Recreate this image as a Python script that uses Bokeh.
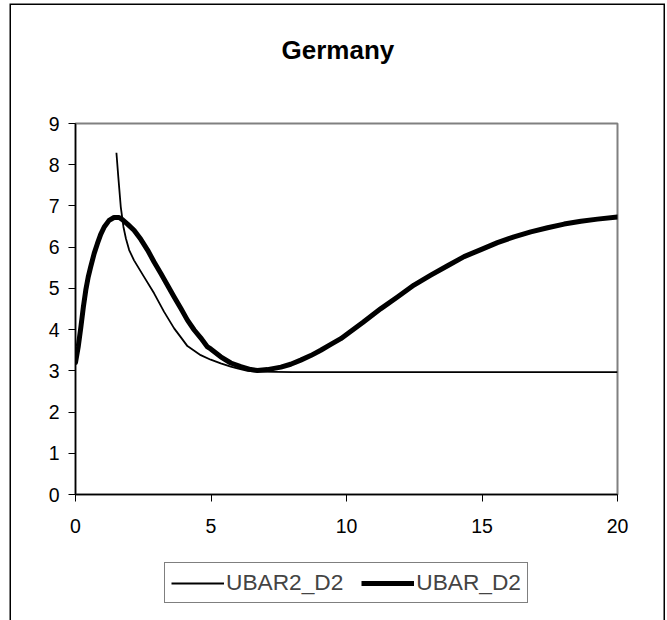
from bokeh.plotting import figure
from bokeh.layouts import column
from bokeh.models import Range1d, FixedTicker, Legend, LegendItem, Title
from bokeh.embed import file_html
from bokeh.resources import INLINE

title_text = "Germany"
x_ticks = [0, 5, 10, 15, 20]
y_ticks = [0, 1, 2, 3, 4, 5, 6, 7, 8, 9]
series_names = ["UBAR2_D2", "UBAR_D2"]

ubar2_x = [1.51, 1.58, 1.67, 1.77, 1.86, 1.98, 2.16, 2.53, 2.9, 3.27, 3.64, 3.87, 4.13,
           4.62, 4.99, 5.36, 5.73, 5.97, 6.35, 6.7, 8.0, 10.0, 12.0, 14.0, 16.0, 18.0, 20.0]
ubar2_y = [8.29, 7.7, 6.98, 6.49, 6.21, 5.93, 5.68, 5.28, 4.88, 4.43, 4.03, 3.83, 3.6,
           3.38, 3.27, 3.18, 3.1, 3.06, 3.0, 2.98, 2.97, 2.97, 2.97, 2.97, 2.97, 2.97, 2.97]

ubar_x = [0.0, 0.1, 0.2, 0.29, 0.38, 0.47, 0.56, 0.69, 0.81, 0.93, 1.06, 1.24, 1.42,
          1.61, 1.73, 1.92, 2.16, 2.41, 2.66, 2.9, 3.15, 3.39, 3.64, 3.89, 4.13, 4.38,
          4.62, 4.87, 4.99, 5.36, 5.73, 6.1, 6.47, 6.71, 7.08, 7.58, 7.94, 8.31, 8.68,
          9.05, 9.42, 9.79, 10.1, 10.6, 11.27, 11.88, 12.49, 13.11, 13.73, 14.34, 14.96,
          15.57, 16.18, 16.8, 17.42, 18.03, 18.65, 19.26, 20.0]
ubar_y = [3.2, 3.58, 4.07, 4.55, 4.96, 5.28, 5.52, 5.85, 6.09, 6.31, 6.49, 6.65, 6.72,
          6.72, 6.67, 6.56, 6.41, 6.19, 5.93, 5.64, 5.36, 5.08, 4.79, 4.51, 4.23, 3.99,
          3.8, 3.58, 3.53, 3.34, 3.19, 3.1, 3.03, 3.01, 3.03, 3.09, 3.16, 3.26, 3.37,
          3.5, 3.64, 3.78, 3.93, 4.17, 4.51, 4.79, 5.08, 5.32, 5.55, 5.77, 5.94,
          6.11, 6.25, 6.37, 6.47, 6.56, 6.63, 6.68, 6.73]

FONT = "Liberation Sans"
W = 667
H1 = 555
H2 = 65

# ---- main chart ----
p = figure(width=W, height=H1, output_backend="svg", toolbar_location=None,
           title_location=None,
           x_range=Range1d(0, 20), y_range=Range1d(0, 9),
           min_border_left=75, min_border_right=50, min_border_top=123,
           min_border_bottom=H1 - 494)

# spacer (nearest the frame), then the real title above it
spacer = Title(text=" ", text_font=FONT, text_font_size="26px", standoff=27,
               align="left", offset=206)
main_title = Title(text=title_text, text_font=FONT, text_font_size="26px",
                   text_font_style="bold", text_color="black", standoff=0,
                   align="left", offset=206)
p.add_layout(spacer, "above")
p.add_layout(main_title, "above")

p.xgrid.visible = False
p.ygrid.visible = False
p.outline_line_color = "#808080"
p.outline_line_width = 2
p.background_fill_color = "white"
p.border_fill_color = None

p.xaxis.ticker = FixedTicker(ticks=x_ticks)
p.yaxis.ticker = FixedTicker(ticks=y_ticks)
for ax in (p.xaxis[0], p.yaxis[0]):
    ax.axis_line_color = "black"
    ax.axis_line_width = 1.5
    ax.major_tick_line_color = "black"
    ax.major_tick_out = 7
    ax.major_tick_in = 0
    ax.minor_tick_line_color = None
    ax.major_label_text_font = FONT
    ax.major_label_text_font_size = "19.5px"
    ax.major_label_text_color = "black"
p.xaxis.major_label_standoff = 17
p.yaxis.major_label_standoff = 9

p.line(ubar2_x, ubar2_y, line_color="black", line_width=1.8, line_join="round")
p.line(ubar_x, ubar_y, line_color="black", line_width=5, line_join="round", line_cap="round")

# ---- legend strip (same series, drawn off-range so only the legend shows) ----
q = figure(width=W, height=H2, output_backend="svg", toolbar_location=None,
           x_range=Range1d(100, 101), y_range=Range1d(100, 101),
           x_axis_location=None, y_axis_location=None,
           min_border=0, min_border_left=0, min_border_right=0,
           min_border_top=0, min_border_bottom=0)
q.xgrid.visible = False
q.ygrid.visible = False
q.outline_line_color = None
q.background_fill_color = None
q.border_fill_color = None
q1 = q.line(ubar2_x, ubar2_y, line_color="black", line_width=2)
q2 = q.line(ubar_x, ubar_y, line_color="black", line_width=5)

legend = Legend(items=[LegendItem(label=series_names[0], renderers=[q1]),
                       LegendItem(label=series_names[1], renderers=[q2])],
                orientation="horizontal", location=(89, H2 - 48),
                border_line_color="black", border_line_width=1,
                padding=6, spacing=18, label_standoff=2, margin=0,
                glyph_width=53, glyph_height=20,
                label_text_font=FONT, label_text_font_size="22.7px",
                background_fill_color="white", background_fill_alpha=1)
q.add_layout(legend, "center")

layout = column(p, q, spacing=0)
layout.styles = {
    "background-color": "white",
    "box-shadow": ("inset 9.5px 0 0 0 white, inset 0 3.5px 0 0 white, "
                   "inset -2px 0 0 0 white, inset 11px 0 0 0 black, "
                   "inset 0 5px 0 0 black, inset -3.5px 0 0 0 black"),
}

open("out.html", "w").write(file_html(layout, INLINE))
